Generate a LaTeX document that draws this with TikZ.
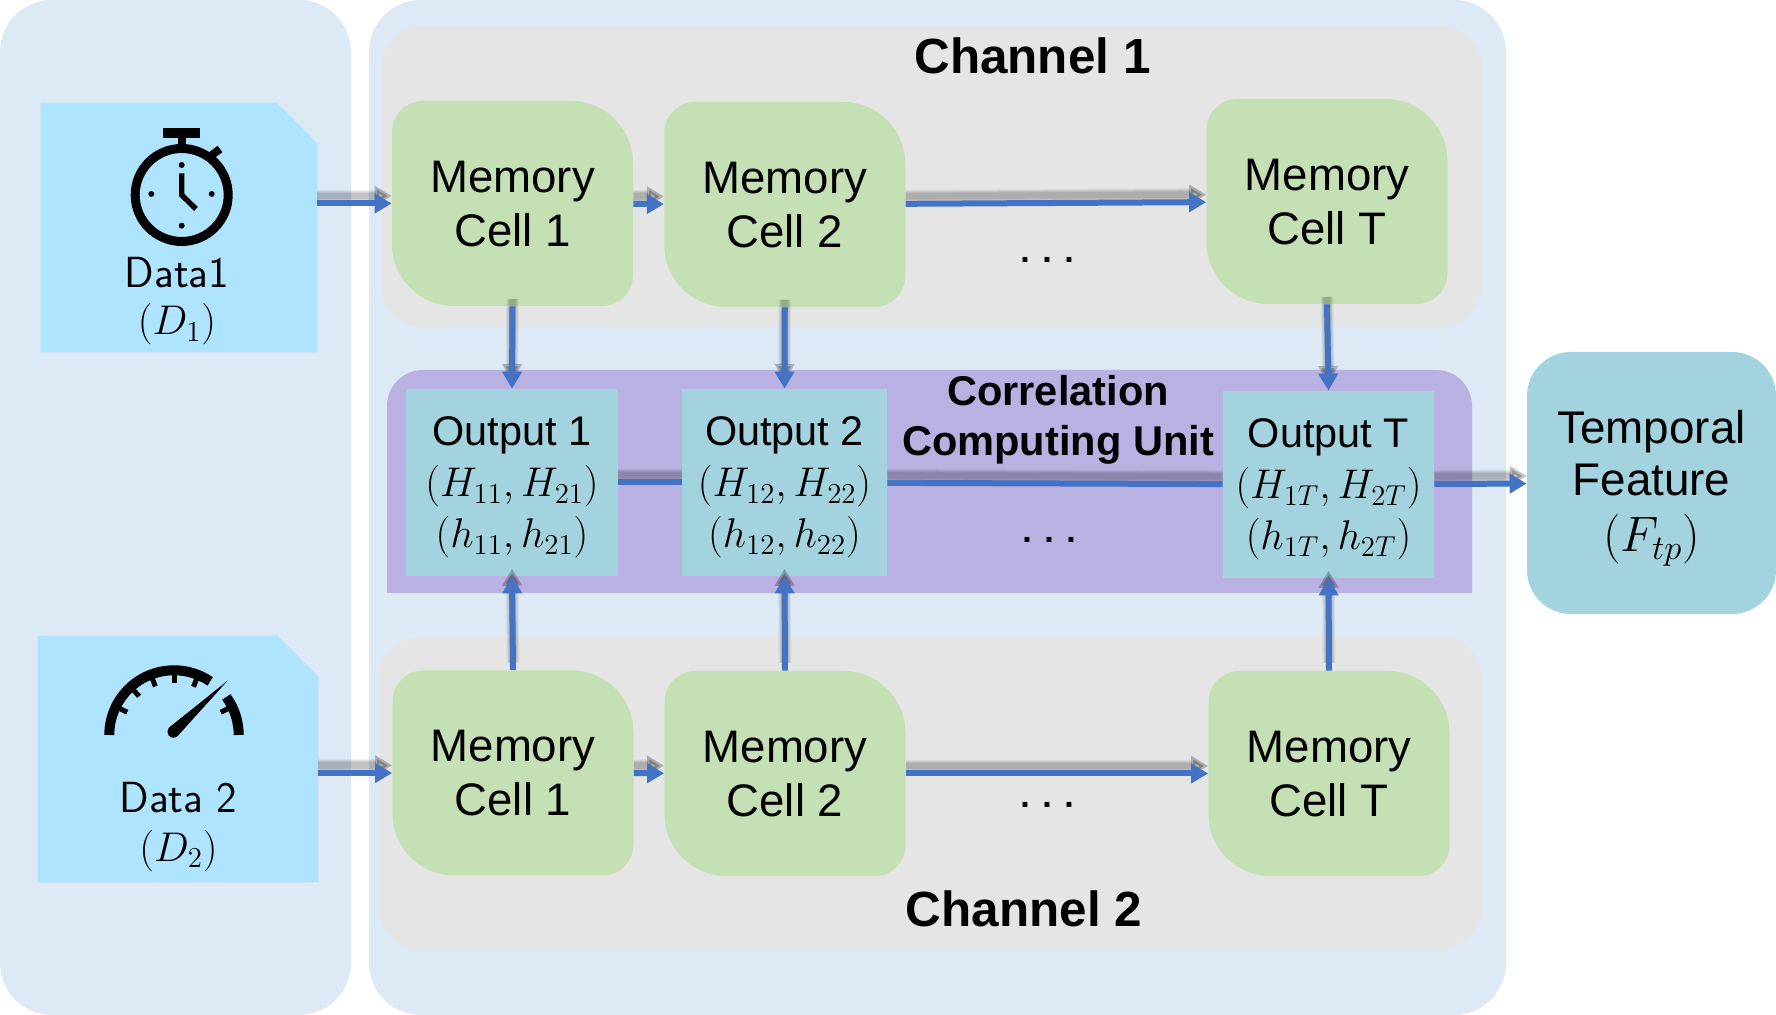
\documentclass[tikz,border=0pt]{standalone}
\usepackage[no-math]{fontspec}
\setmainfont{Liberation Sans}
\usetikzlibrary{arrows.meta}

\definecolor{panelblue}{HTML}{DDE9F5}
\definecolor{chgray}{HTML}{E5E5E5}
\definecolor{cellgreen}{HTML}{C5E0B4}
\definecolor{databl}{HTML}{AEE4FF}
\definecolor{outteal}{HTML}{A2D3DE}
\definecolor{corrlila}{HTML}{B8B1E2}
\definecolor{flowbl}{HTML}{4472C4}

\tikzset{
  panel/.style={fill=panelblue,rounded corners=26pt,inner sep=0pt,minimum height=507.5pt},
  chbox/.style={fill=chgray,rounded corners=21pt,inner sep=0pt},
  databox/.style={inner sep=0pt},
  memnode/.style={inner sep=0pt,minimum width=120.5pt,minimum height=102.5pt,align=center,
    text depth=-3pt,font=\fontsize{22.8}{27}\selectfont},
  outbox/.style={fill=outteal,inner sep=0pt,minimum height=93.5pt,align=center,
    text depth=-4.5pt,font=\fontsize{20.7}{25.5}\selectfont},
  datalbl/.style={align=center,inner sep=0pt,font=\sffamily\fontsize{21.8}{24}\selectfont},
  chlbl/.style={anchor=base,inner sep=0pt,font=\bfseries\fontsize{24.7}{29}\selectfont},
  dotslbl/.style={anchor=base,inner sep=0pt,font=\bfseries\fontsize{17}{20}\selectfont},
  flow/.style={draw=flowbl,line width=3pt,
    preaction={draw=black,opacity=.06,line width=6.2pt,transform canvas={yshift=3.8pt}},
    preaction={draw=black,opacity=.06,line width=5.2pt,transform canvas={yshift=3.8pt}},
    preaction={draw=black,opacity=.07,line width=4.2pt,transform canvas={yshift=3.8pt}},
    preaction={draw=black,opacity=.07,line width=3.2pt,transform canvas={yshift=3.8pt}}},
}

% memory cell: name, centre, text
\newcommand{\memcell}[3]{%
  \fill[cellgreen,shift={#2}] (-120.5,-40.5) -- (-120.5,71.5)
    arc[start angle=180,end angle=90,radius=31] -- (58.5,102.5)
    arc[start angle=90,end angle=0,radius=62] -- (120.5,-71.5)
    arc[start angle=0,end angle=-90,radius=31] -- (-58.5,-102.5)
    arc[start angle=270,end angle=180,radius=62] -- cycle;
  \node[memnode] (#1) at #2 {#3};
}
% input sheet with the cut corner
\newcommand{\datasheet}[4]{%
  \node[databox,minimum width=#3,minimum height=#4] (#1) at #2 {};
  \fill[databl] (#1.south west) -- (#1.north west) -- ([xshift=-20.5pt]#1.north east)
    -- ([yshift=-20.5pt]#1.north east) -- (#1.south east) -- cycle;
}

\begin{document}
\begin{tikzpicture}[x=.5pt,y=.5pt,>={Triangle[length=8.5pt,width=9.5pt]}]
\useasboundingbox (0,0) rectangle (1776,1015);

% panels
\node[panel,minimum width=175.5pt] (pnlL) at (175.5,507.5) {};
\node[panel,minimum width=568.5pt] (pnlR) at (937.5,507.5) {};
\node[chbox,minimum width=550.5pt,minimum height=150.5pt] (ch1) at (931.5,838.5) {};
\node[chbox,minimum width=551.5pt,minimum height=156pt]   (ch2) at (930.5,222) {};

% correlation unit
\fill[corrlila] (387,422) -- (387,609) arc[start angle=180,end angle=90,radius=36]
  -- (1436,645) arc[start angle=90,end angle=0,radius=36] -- (1472,422) -- cycle;

% inputs
\datasheet{data1}{(179,787.5)}{138pt}{124.5pt}
\datasheet{data2}{(178,256)}{140pt}{123pt}
\node[datalbl] (lbl1) at (177,713.5) {Data1\\[-.5pt]{\fontsize{19.6}{24}\selectfont$(D_1)$}};
\node[datalbl] (lbl2) at (178.5,188) {Data 2\\[.5pt]{\fontsize{19.6}{24}\selectfont$(D_2)$}};

% stopwatch
\draw[line width=4.5pt] (181.7,820) circle (46.5);
\fill (163,877) rectangle (200,887);
\draw[line width=4pt] (181.7,882) -- (181.7,868);
\draw[line width=4pt] (212,860) -- (220,866);
\foreach \px/\py in {181.7/850,181.7/789.3,151.3/821,211.7/821}
  \fill (\px,\py) circle (3);
\draw[line width=2.7pt] (181.7,841.7) -- (181.7,820) -- (196,806);

% gauge
\draw[line width=5pt] (109.3,280) arc[start angle=180,end angle=56,radius=64.7];
\draw[line width=5pt] (238.7,280) arc[start angle=0,end angle=36,radius=64.7];
\foreach \ang in {154,132,111,90,68,26}
  \draw[line width=2.5pt] (174,280) ++(\ang:64) -- ++(\ang:-12);
\fill[shift={(173.5,283.3)},rotate=43.3] (74.4,0) -- (0,6)
  arc[start angle=90,end angle=270,radius=6] -- cycle;

% channel 1
\memcell{c11}{(512.5,811.5)}{Memory\\Cell 1}
\memcell{c12}{(784.75,810.5)}{Memory\\Cell 2}
\memcell{c1T}{(1327,813.5)}{Memory\\Cell T}
\node[chlbl] (ch1lbl) at (1032.5,941) {Channel 1};
\node[dotslbl] (dots1) at (1047,752) {. . .};

% channel 2
\memcell{c21}{(513,242)}{Memory\\Cell 1}
\memcell{c22}{(785,241.5)}{Memory\\Cell 2}
\memcell{c2T}{(1329,241.5)}{Memory\\Cell T}
\node[chlbl] (ch2lbl) at (1024,88) {Channel 2};
\node[dotslbl] (dots2) at (1047,207) {. . .};

% outputs
\node[outbox,minimum width=106pt] (out1) at (512,532.5)
  {Output 1\\$(H_{11},H_{21})$\\$(h_{11},h_{21})$};
\node[outbox,minimum width=102.5pt] (out2) at (784.5,532.5)
  {Output 2\\$(H_{12},H_{22})$\\$(h_{12},h_{22})$};
\node[outbox,minimum width=105.5pt] (outT) at (1328.5,530.5)
  {Output T\\$(H_{1T},H_{2T})$\\$(h_{1T},h_{2T})$};
\node[align=center,inner sep=0pt,font=\bfseries\fontsize{20.8}{25}\selectfont] (corr) at (1058,595)
  {Correlation\\Computing Unit};
\node[dotslbl] (dots3) at (1049,472) {. . .};

% result
\node[fill=outteal,rounded corners=22pt,inner sep=0pt,minimum width=124.5pt,minimum height=131pt,
  align=center,text depth=2pt,font=\fontsize{22.9}{26}\selectfont] (feat) at (1651.5,532)
  {Temporal\\Feature\\[2.3pt]{\fontsize{26.5}{29}\selectfont$(F_{tp})$}};

% connectors
\draw[->,flow] (data1.east |- c11.west) -- (c11.west);
\draw[->,flow] (c11) -- (c12);
\draw[->,flow] (c12) -- (c1T);
\draw[->,flow] (data2.east |- c21.west) -- (c21.west);
\draw[->,flow] (c21) -- (c22);
\draw[->,flow] (c22) -- (c2T);

\draw[->,flow] (c11.south) -- (out1.north);
\draw[->,flow] (c12.south) -- (out2.north);
\draw[->,flow] (c1T.south) -- (outT.north);
\draw[->,flow] (c21.north) -- (out1.south);
\draw[->,flow] (c22.north) -- (out2.south);
\draw[->,flow] (c2T.north) -- (outT.south);

\draw[flow] (out1) -- (out2);
\draw[flow] (out2) -- (outT);
\draw[->,flow] (outT) -- (feat);

\end{tikzpicture}
\end{document}
